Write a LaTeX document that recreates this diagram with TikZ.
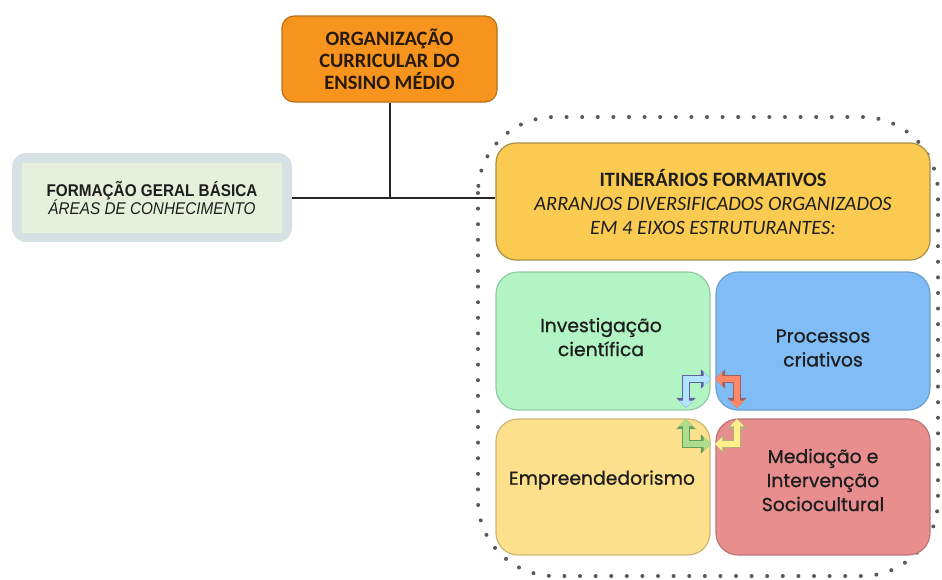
\documentclass[tikz,border=0pt]{standalone}
\usepackage{fontspec}
\setmainfont{Carlito}
\newfontfamily\narrowsans[FakeStretch=0.9]{Liberation Sans}
\newfontfamily\eixofont[FakeBold=0.8]{Poppins}
\usetikzlibrary{arrows.meta,positioning}

\definecolor{orgfill}{HTML}{F7941E}
\definecolor{orgline}{HTML}{B8701A}
\definecolor{fgbout}{HTML}{D6E1E4}
\definecolor{fgbin}{HTML}{E6F0DA}
\definecolor{itinfill}{HTML}{FACB50}
\definecolor{itinline}{HTML}{A58E45}
\definecolor{invfill}{HTML}{B2F4C4}
\definecolor{invline}{HTML}{93C9A2}
\definecolor{procfill}{HTML}{80BDF6}
\definecolor{procline}{HTML}{6D9FCC}
\definecolor{empfill}{HTML}{FDE08C}
\definecolor{empline}{HTML}{CDB676}
\definecolor{medfill}{HTML}{E98E8E}
\definecolor{medline}{HTML}{BE7373}
\definecolor{txt}{HTML}{1E1E1E}

\tikzset{
    eixo/.style={draw=#1line, fill=#1fill, rounded corners=11pt, line width=0.6pt,
        minimum width=107pt, minimum height=69pt},
    eixotext/.style={text=txt, align=center, font=\eixofont\fontsize{9.4}{12}\selectfont},
    cyc/.style={line width=#1, {Triangle[length=0pt 1.4,width=0pt 2.6]}-{Triangle[length=0pt 1.4,width=0pt 2.6]}},
}

\begin{document}
\begin{tikzpicture}[x=0.5pt,y=-0.5pt]
    \useasboundingbox (0,0) rectangle (942,579);

    % moldura pontilhada dos itinerarios
    \draw[black!65, line width=2pt, line cap=round, dash pattern=on 0pt off 7.8pt,
        rounded corners=38pt] (478,117) rectangle (938,576);

    \node[draw=orgline, fill=orgfill, rounded corners=6pt, line width=0.6pt,
        minimum width=107.5pt, minimum height=43pt, align=center,
        text=black!80!brown, font=\bfseries\fontsize{10.2}{11}\selectfont]
        (org) at (389.5,59) {ORGANIZAÇÃO\\CURRICULAR DO\\ENSINO MÉDIO};

    \node[fill=fgbout, rounded corners=7pt, minimum width=140pt, minimum height=44.5pt]
        (fgb) at (152,197.5) {};
    \node[fill=fgbin, minimum width=130pt, minimum height=35pt, align=center,
        text=txt, font=\narrowsans\fontsize{8.5}{9.4}\selectfont]
        (fgbtext) at (152,198) {\bfseries FORMAÇÃO GERAL BÁSICA\\\itshape ÁREAS DE CONHECIMENTO};

    \node[draw=itinline, fill=itinfill, rounded corners=10pt, line width=0.6pt,
        minimum width=217pt, minimum height=58.5pt]
        (itin) at (713,201.5) {};
    \node[align=center, text=txt, font=\fontsize{10.2}{12}\selectfont]
        (itintext) at (713,202) {\bfseries ITINERÁRIOS FORMATIVOS\\\itshape ARRANJOS DIVERSIFICADOS ORGANIZADOS\\\itshape EM 4 EIXOS ESTRUTURANTES:};

    % os quatro eixos
    \node[eixo=inv] (inv) at (603,341) {};
    \node[eixo=proc] (proc) at (823,341) {};
    \node[eixo=emp, minimum height=68pt] (emp) at (603,487) {};
    \node[eixo=med, minimum height=68pt] (med) at (823,487) {};
    \node[eixotext] at (601,337) {Investigação\\científica};
    \node[eixotext] at (823,348) {Processos\\criativos};
    \node[eixotext] at (602,480) {Empreendedorismo};
    \node[eixotext] at (823,480) {Mediação e\\Intervenção\\Sociocultural};

    % ligacoes
    \draw[line width=1pt, black!85] (org.south) -- (org.south |- fgb.east);
    \draw[line width=1pt, black!85] (fgb.east) -- (fgb.east -| itin.west);

    % setas do ciclo
    \draw[cyc=3.6pt, gray!75!blue] (711,379) -- (686,379) -- (686,408);
    \draw[cyc=2.6pt, blue!35!cyan!30!white] (711,379) -- (686,379) -- (686,408);
    \draw[cyc=3.6pt, gray!75!red] (715,379) -- (737,379) -- (737,408);
    \draw[cyc=2.6pt, red!55!orange!60!white] (715,379) -- (737,379) -- (737,408);
    \draw[cyc=3.6pt, gray!75!green] (686,419) -- (686,444) -- (711,444);
    \draw[cyc=2.6pt, green!40!olive!45!white] (686,419) -- (686,444) -- (711,444);
    \draw[cyc=3.6pt, gray!70!yellow] (737,419) -- (737,444) -- (715,444);
    \draw[cyc=2.6pt, yellow!80!orange!45!white] (737,419) -- (737,444) -- (715,444);
\end{tikzpicture}
\end{document}
